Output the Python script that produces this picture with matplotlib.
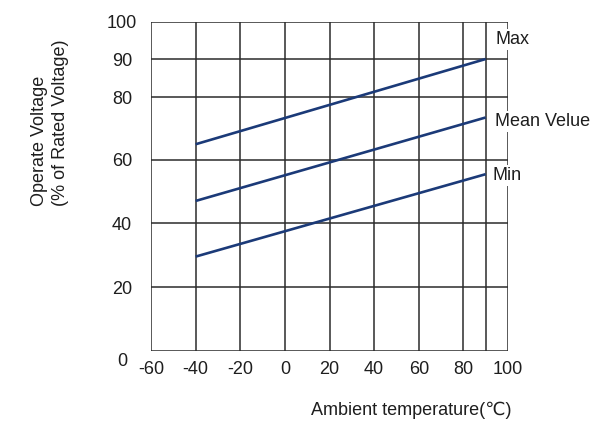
"""
Operate voltage vs ambient temperature (relay datasheet style chart).
"""
import numpy as np
import matplotlib
matplotlib.use("Agg")
import matplotlib.pyplot as plt
from matplotlib.transforms import ScaledTranslation

# ----------------------------------------------------------------------
# data
TEMP = [-40, 90]
V_MAX = [65, 90]
V_MEAN = [47, 73.5]
V_MIN = [29.5, 55.5]
SERIES_NAMES = ['Max', 'Mean Velue', 'Min']

X_TICKS = [-60, -40, -20, 0, 20, 40, 60, 80, 100]
X_GRID = [-60, -40, -20, 0, 20, 40, 60, 80, 90, 100]
Y_TICKS = [0, 20, 40, 60, 80, 90, 100]
# the original chart has an uneven voltage axis: where each tick sits (px)
Y_TICK_POS = [0, 64, 128, 191, 254, 292, 329]

LINE_COLOR = '#1b3a78'
GRID_COLOR = '#2b2b2b'
TEXT_COLOR = '#1e1e1e'
FS = 13

plt.rcParams.update({"font.family": ["Liberation Sans", "DejaVu Sans"],
                     "font.size": FS})


def fwd(v):
    return np.interp(v, Y_TICKS, Y_TICK_POS)


def inv(p):
    return np.interp(p, Y_TICK_POS, Y_TICKS)


# ----------------------------------------------------------------------
fig = plt.figure(figsize=(6.01, 4.29), dpi=100)
ax = fig.add_axes([151 / 601, 1 - 351 / 429, 357 / 601, 329 / 429])
ax.set_yscale('function', functions=(fwd, inv))
ax.set_xlim(-60, 100)
ax.set_ylim(0, 100)

for x in X_GRID:
    ax.axvline(x, color=GRID_COLOR, lw=1.1, zorder=1)
for y in Y_TICKS:
    ax.axhline(y, color=GRID_COLOR, lw=1.1, zorder=1)
for s in ax.spines.values():
    s.set_visible(False)

label_dy = {'Max': 14, 'Mean Velue': -3, 'Min': -1}
label_dx = {'Max': 7, 'Mean Velue': 7, 'Min': 5}
for vals, name in zip([V_MAX, V_MEAN, V_MIN], SERIES_NAMES):
    ax.plot(TEMP, vals, color=LINE_COLOR, lw=1.9, zorder=3,
            solid_capstyle='butt')
    ax.annotate(name, (TEMP[-1], vals[-1]),
                xytext=(label_dx[name], label_dy[name]),
                textcoords='offset points', ha='left', va='center',
                fontsize=FS, color=TEXT_COLOR, zorder=4,
                bbox=dict(boxstyle='square,pad=0.1', fc='white', ec='none'))

ax.set_xticks(X_TICKS)
ax.set_xticklabels([str(t) for t in X_TICKS])
ax.set_yticks(Y_TICKS)
ax.set_yticklabels([str(t) for t in Y_TICKS])
ax.tick_params(length=0, colors=TEXT_COLOR, labelsize=FS)
ax.tick_params(axis='x', pad=7)
ax.tick_params(axis='y', pad=21)
for lbl in ax.get_yticklabels():
    lbl.set_horizontalalignment('center')
zero_lbl = ax.get_yticklabels()[0]
zero_lbl.set_transform(zero_lbl.get_transform()
                       + ScaledTranslation(0, -9 / 100, fig.dpi_scale_trans))

ax.set_xlabel("Ambient temperature(\u2103)", fontsize=FS, color=TEXT_COLOR,
              labelpad=17, x=0.73)
fig.text(50 / 601, 1 - 206 / 429, "Operate Voltage\n(% of Rated Voltage)",
         rotation=90, ha='center', va='bottom', multialignment='left',
         fontsize=FS, color=TEXT_COLOR, linespacing=1.3)

fig.savefig("out.png", dpi=100)
